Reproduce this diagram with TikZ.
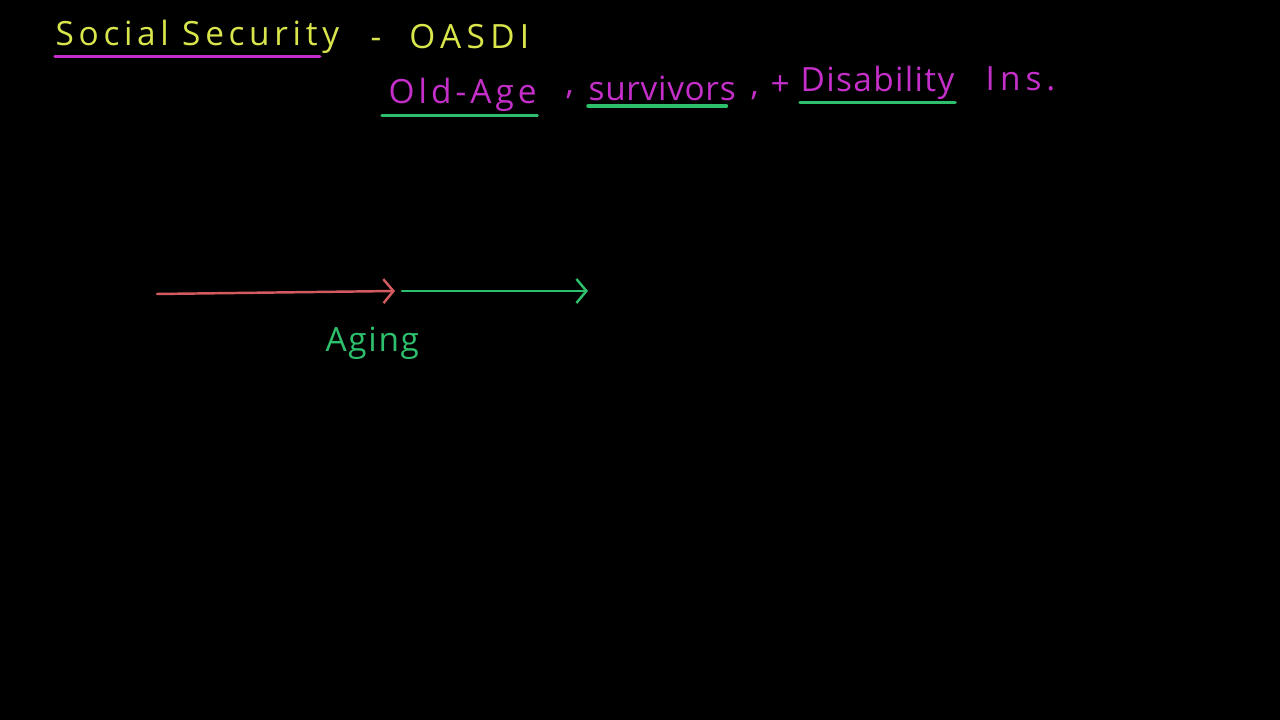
\documentclass[tikz,border=0pt]{standalone}
\usepackage{fontspec}
\setmainfont{Open Sans}
\usepackage{xcolor}
\usetikzlibrary{arrows.meta}
\definecolor{chalkyellow}{HTML}{D9E64B}
\definecolor{chalkpink}{HTML}{C52FC9}
\definecolor{chalkgreen}{HTML}{2DBF6C}
\definecolor{chalkred}{HTML}{D35B60}

\begin{document}
\begin{tikzpicture}[x=1cm, y=-1cm,
  chalk/.style={line width=1pt, line cap=round},
  timeline/.style={line width=0.7pt, line cap=round, -{Straight Barb[length=1mm, width=2.4mm]}},
  word/.style={inner sep=0pt, anchor=west,
    font=\fontsize{9.5}{11}\selectfont\addfontfeature{LetterSpace=#1}},
  word/.default=9]
  % board
  \fill[black] (0,0) rectangle (12.8,7.2);
  \useasboundingbox (0,0) rectangle (12.8,7.2);

  % --- title line ---
  \node[word=14, text=chalkyellow] (social) at (0.55,0.37) {Social Security};
  \node[word=16, text=chalkyellow] (oasdi) at (3.70,0.37) {-\ \ OASDI};
  \draw[chalk, chalkpink] ([yshift=-0.02cm]social.south west) -- ([xshift=-0.2cm, yshift=-0.02cm]social.south east);

  % --- what the letters stand for ---
  \node[word=12, text=chalkpink] (oldage) at (3.88,0.95) {Old-Age};
  \node[word, text=chalkpink] (comma1) at (5.65,0.95) {,};
  \node[word=2, text=chalkpink] (surv) at (5.88,0.88) {survivors};
  \node[word, text=chalkpink] (comma2) at (7.50,0.88) {,\ +};
  \node[word=4, text=chalkpink] (disab) at (8.00,0.83) {Disability};
  \node[word=15, text=chalkpink] (ins) at (9.85,0.79) {Ins.};
  \draw[chalk, chalkgreen] ([xshift=-0.06cm, yshift=-0.03cm]oldage.south west) -- ([yshift=-0.03cm]oldage.south east);
  \draw[chalk, chalkgreen] ([yshift=-0.05cm]surv.south west) -- ([xshift=-0.1cm, yshift=-0.05cm]surv.south east);
  \draw[chalk, chalkgreen] ([yshift=-0.02cm]disab.south west) -- ([yshift=-0.02cm]disab.south east);

  % --- time line ---
  \coordinate (start) at (1.57,2.94);
  \coordinate (mid) at (3.95,2.91);
  \coordinate (midb) at (4.02,2.91);
  \coordinate (stop) at (5.88,2.91);
  \draw[timeline, chalkred] (start) -- (mid);
  \draw[timeline, chalkgreen] (midb) -- (stop);
  \node[word=5, text=chalkgreen] (aging) at (3.25,3.43) {Aging};
\end{tikzpicture}
\end{document}
